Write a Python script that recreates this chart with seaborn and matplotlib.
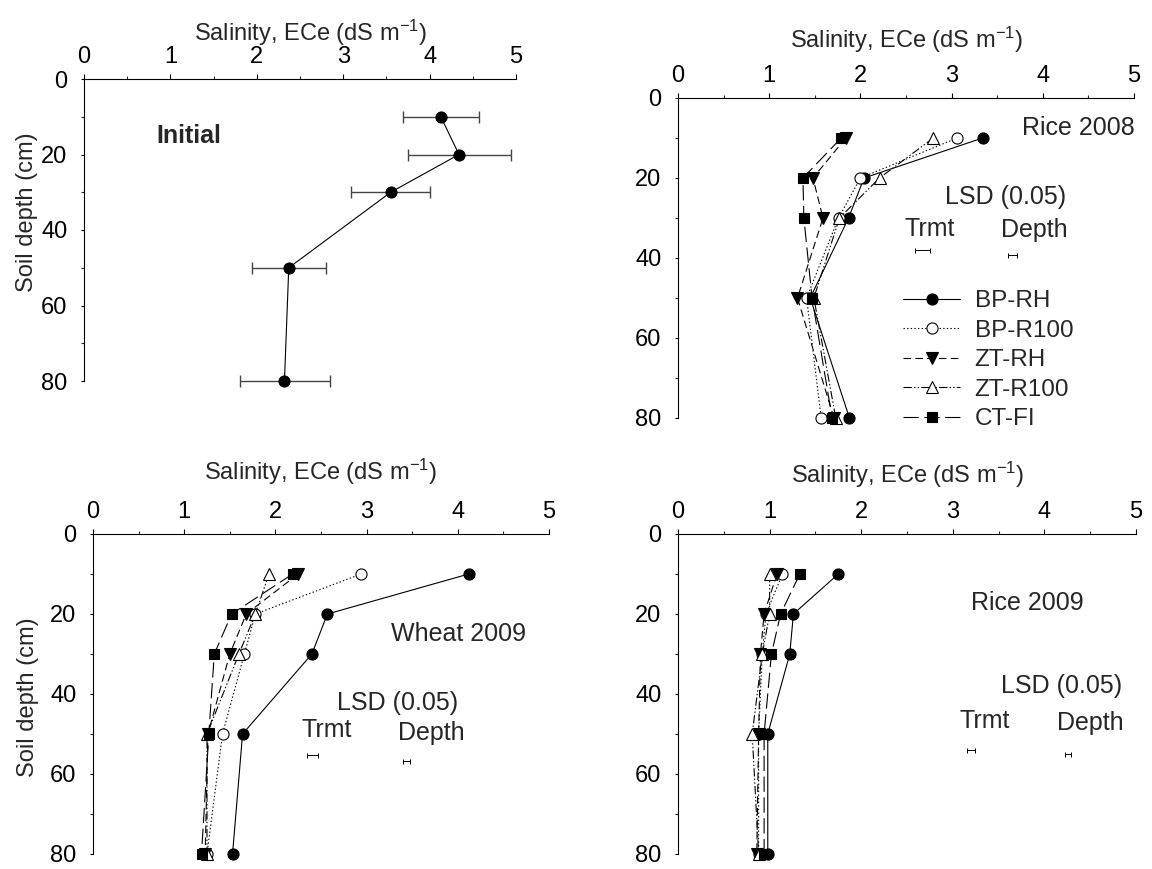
import matplotlib
matplotlib.use("Agg")
import matplotlib.pyplot as plt
import seaborn as sns
import pandas as pd
from matplotlib.ticker import MultipleLocator

sns.set_style("ticks")
plt.rcParams['font.family'] = ['Liberation Sans', 'DejaVu Sans']
plt.rcParams['mathtext.default'] = 'regular'
plt.rcParams['lines.scale_dashes'] = False

# ---------------- data ----------------
depth = [10, 20, 30, 50, 80]

initial_ece = [4.13, 4.34, 3.55, 2.37, 2.32]
initial_lo = [3.69, 3.75, 3.09, 1.94, 1.80]
initial_hi = [4.57, 4.94, 4.01, 2.80, 2.85]

treatments = ["BP-RH", "BP-R100", "ZT-RH", "ZT-R100", "CT-FI"]

rice08_bp_rh = [3.34, 2.04, 1.87, 1.45, 1.88]
rice08_bp_r100 = [3.06, 2.00, 1.76, 1.41, 1.57]
rice08_zt_rh = [1.84, 1.48, 1.59, 1.31, 1.71]
rice08_zt_r100 = [2.80, 2.21, 1.77, 1.49, 1.73]
rice08_ct_fi = [1.79, 1.37, 1.38, 1.47, 1.69]

wheat09_bp_rh = [4.12, 2.57, 2.40, 1.64, 1.53]
wheat09_bp_r100 = [2.94, 1.78, 1.66, 1.42, 1.25]
wheat09_zt_rh = [2.25, 1.68, 1.50, 1.26, 1.23]
wheat09_zt_r100 = [1.93, 1.78, 1.60, 1.25, 1.25]
wheat09_ct_fi = [2.19, 1.52, 1.33, 1.27, 1.19]

rice09_bp_rh = [1.75, 1.26, 1.22, 0.98, 0.98]
rice09_bp_r100 = [1.14, 0.96, 0.92, 0.88, 0.88]
rice09_zt_rh = [1.08, 0.94, 0.90, 0.88, 0.86]
rice09_zt_r100 = [1.00, 1.00, 0.92, 0.81, 0.88]
rice09_ct_fi = [1.33, 1.12, 1.02, 0.94, 0.94]

# LSD (0.05) bars: [Trmt, Depth] centre, half-width, depth position
lsd_rice08_x = [2.68, 3.67]
lsd_rice08_half = [0.08, 0.05]
lsd_rice08_y = [38.0, 39.2]
lsd_wheat09_x = [2.41, 3.44]
lsd_wheat09_half = [0.06, 0.04]
lsd_wheat09_y = [55.3, 56.8]
lsd_rice09_x = [3.20, 4.26]
lsd_rice09_half = [0.045, 0.035]
lsd_rice09_y = [54.0, 55.0]

# ---------------- styles ----------------
styles = {
    "BP-RH":   dict(linestyle='-', marker='o', markerfacecolor='black', markersize=8),
    "BP-R100": dict(linestyle=(0, (1, 1.6)), marker='o', markerfacecolor='white', markersize=8),
    "ZT-RH":   dict(linestyle=(0, (5.5, 3)), marker='v', markerfacecolor='black', markersize=8.5),
    "ZT-R100": dict(linestyle=(0, (6, 1.6, 1, 1.6, 1, 1.6)), marker='^', markerfacecolor='white', markersize=8.5),
    "CT-FI":   dict(linestyle=(0, (11, 4)), marker='s', markerfacecolor='black', markersize=7.5),
}

FS_TICK = 17
FS_LAB = 17
FS_TXT = 18
FS_LEG = 17.5

fig = plt.figure(figsize=(11.52, 8.69), dpi=100)
W, H = 1152.0, 869.0


def make_ax(x0, x1, y0, y1):
    return fig.add_axes([x0 / W, 1 - y1 / H, (x1 - x0) / W, (y1 - y0) / H])


def style_ax(ax, xlab_y, xlab_x=0.5, ylabel=False, ylab_x=-0.12, ylab_y=0.5):
    ax.set_xlim(0, 5)
    ax.set_ylim(80, 0)
    ax.xaxis.tick_top()
    ax.xaxis.set_label_position('top')
    for s in ['bottom', 'right']:
        ax.spines[s].set_visible(False)
    for s in ['top', 'left']:
        ax.spines[s].set_linewidth(0.8)
        ax.spines[s].set_color('black')
    ax.xaxis.set_major_locator(MultipleLocator(1))
    ax.xaxis.set_minor_locator(MultipleLocator(0.5))
    ax.yaxis.set_major_locator(MultipleLocator(20))
    ax.yaxis.set_minor_locator(MultipleLocator(10))
    ax.tick_params(axis='x', which='major', direction='out', length=3.6, width=0.8,
                   labelsize=FS_TICK, pad=4, top=True, bottom=False, colors='black')
    ax.tick_params(axis='x', which='minor', direction='out', length=2.5, width=0.8,
                   top=True, bottom=False)
    ax.tick_params(axis='y', which='major', direction='out', length=2.5, width=0.8,
                   labelsize=FS_TICK, pad=9.5, colors='black')
    ax.tick_params(axis='y', which='minor', direction='out', length=2.5, width=0.8)
    ax.set_xlabel('Salinity, ECe (dS m$^{-1}$)', fontsize=FS_LAB)
    ax.xaxis.set_label_coords(xlab_x, xlab_y)
    if ylabel:
        ax.set_ylabel('Soil depth (cm)', fontsize=FS_LAB)
        ax.yaxis.set_label_coords(ylab_x, ylab_y)
    else:
        ax.set_ylabel('')
    ax.grid(False)


def draw_series(ax, series):
    handles = []
    for name, vals in zip(treatments, series):
        df = pd.DataFrame({'ece': vals, 'depth': depth})
        st = styles[name]
        sns.lineplot(data=df, x='ece', y='depth', sort=False, estimator=None, ax=ax,
                     color='black', linewidth=0.8, markeredgecolor='black',
                     markeredgewidth=0.8, clip_on=False, **st)
        handles.append(ax.get_lines()[-1])
    return handles


def draw_lsd(ax, xs, halves, ys):
    ax.errorbar(xs, ys, xerr=halves, fmt='none', ecolor='black', elinewidth=0.7,
                capsize=1.8, capthick=0.7)


# ---------- Top-left: Initial ----------
ax1 = make_ax(84, 516, 79, 381)
df_init = pd.DataFrame({'ece': initial_ece, 'depth': depth})
err_lo = [v - lo for v, lo in zip(initial_ece, initial_lo)]
err_hi = [hi - v for v, hi in zip(initial_ece, initial_hi)]
ax1.errorbar(initial_ece, depth, xerr=[err_lo, err_hi], fmt='none', ecolor='#444444',
             elinewidth=1.0, capsize=4.5, capthick=1.0, clip_on=False, zorder=2)
sns.lineplot(data=df_init, x='ece', y='depth', sort=False, estimator=None, ax=ax1,
             color='black', linewidth=0.8, marker='o', markersize=8,
             markerfacecolor='black', markeredgecolor='black', clip_on=False, zorder=3)
ax1.text(1.21, 15.2, 'Initial', fontsize=FS_TXT, fontweight='bold', ha='center', va='center')
style_ax(ax1, xlab_y=1.126, xlab_x=0.525, ylabel=True, ylab_x=-0.106, ylab_y=0.56)

# ---------- Top-right: Rice 2008 ----------
ax2 = make_ax(678, 1134, 98, 418)
h = draw_series(ax2, [rice08_bp_rh, rice08_bp_r100, rice08_zt_rh, rice08_zt_r100, rice08_ct_fi])
draw_lsd(ax2, lsd_rice08_x, lsd_rice08_half, lsd_rice08_y)
ax2.text(3.77, 7.5, 'Rice 2008', fontsize=FS_TXT, ha='left', va='center', clip_on=False)
ax2.text(3.59, 24.7, 'LSD (0.05)', fontsize=FS_TXT, ha='center', va='center')
ax2.text(2.76, 32.7, 'Trmt', fontsize=FS_TXT, ha='center', va='center')
ax2.text(3.91, 33.1, 'Depth', fontsize=FS_TXT, ha='center', va='center')
style_ax(ax2, xlab_y=1.156, xlab_x=0.502)
leg = ax2.legend(h, treatments, loc='upper left', bbox_to_anchor=(903 / W, 1 - 290 / H),
                 bbox_transform=fig.transFigure, frameon=False, fontsize=FS_LEG,
                 handlelength=2.35, handletextpad=0.6, labelspacing=0.31,
                 borderpad=0, borderaxespad=0)

# ---------- Bottom-left: Wheat 2009 ----------
ax3 = make_ax(93, 549, 534, 854)
draw_series(ax3, [wheat09_bp_rh, wheat09_bp_r100, wheat09_zt_rh, wheat09_zt_r100, wheat09_ct_fi])
draw_lsd(ax3, lsd_wheat09_x, lsd_wheat09_half, lsd_wheat09_y)
ax3.text(4.01, 25.0, 'Wheat 2009', fontsize=FS_TXT, ha='center', va='center')
ax3.text(3.34, 42.25, 'LSD (0.05)', fontsize=FS_TXT, ha='center', va='center')
ax3.text(2.56, 48.9, 'Trmt', fontsize=FS_TXT, ha='center', va='center')
ax3.text(3.71, 49.75, 'Depth', fontsize=FS_TXT, ha='center', va='center')
style_ax(ax3, xlab_y=1.169, xlab_x=0.50, ylabel=True, ylab_x=-0.119, ylab_y=0.49)

# ---------- Bottom-right: Rice 2009 ----------
ax4 = make_ax(678, 1136, 534, 854)
draw_series(ax4, [rice09_bp_rh, rice09_bp_r100, rice09_zt_rh, rice09_zt_r100, rice09_ct_fi])
draw_lsd(ax4, lsd_rice09_x, lsd_rice09_half, lsd_rice09_y)
ax4.text(3.81, 17.3, 'Rice 2009', fontsize=FS_TXT, ha='center', va='center')
ax4.text(4.19, 37.9, 'LSD (0.05)', fontsize=FS_TXT, ha='center', va='center')
ax4.text(3.35, 46.75, 'Trmt', fontsize=FS_TXT, ha='center', va='center')
ax4.text(4.50, 47.3, 'Depth', fontsize=FS_TXT, ha='center', va='center')
style_ax(ax4, xlab_y=1.159, xlab_x=0.502)

fig.savefig('out.png', dpi=100, facecolor='white')
